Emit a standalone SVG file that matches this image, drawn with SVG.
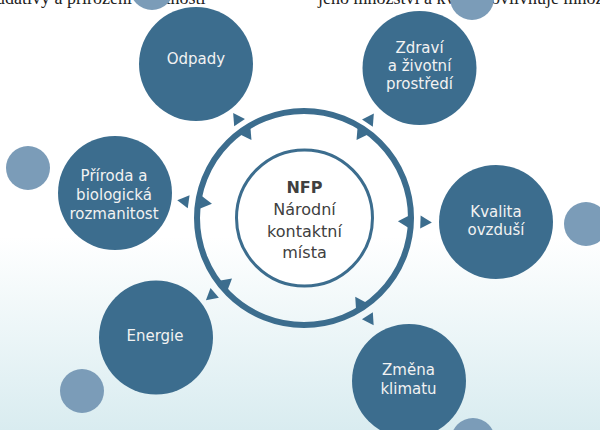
<svg xmlns="http://www.w3.org/2000/svg" xmlns:xlink="http://www.w3.org/1999/xlink" width="600" height="430" viewBox="0 0 600 430">
<defs>
<linearGradient id="bg" x1="0" y1="0" x2="0" y2="1">
<stop offset="0" stop-color="#ffffff"/>
<stop offset="0.55" stop-color="#ffffff"/>
<stop offset="1" stop-color="#d9ecf0"/>
</linearGradient>
<polygon id="tri" points="6,0 -5.5,-6.5 -5.5,6.5"/>
</defs>
<style>
.node{fill:#3c6d8e}
.dot{fill:#7b9cb8}
.lbl{font-family:"DejaVu Sans",Verdana,sans-serif;font-size:15px;fill:#f2f2f2;text-anchor:middle}
.ctr{font-family:"DejaVu Sans",Verdana,sans-serif;font-size:16px;fill:#404040;text-anchor:middle}
.page{font-family:"Liberation Serif","Times New Roman",serif;font-size:18px;fill:#222}
.arr{fill:#3c6d8e}
</style>
<rect x="0" y="0" width="600" height="430" fill="url(#bg)"/>
<text class="page" x="-4" y="4">udativy a přirozeni vlastnosti</text>
<text class="page" x="318" y="4">jeho množství a kvalitu ovlivňuje množství</text>
<g id="dots">
<circle class="dot" cx="152" cy="-12" r="22"/>
<circle class="dot" cx="472" cy="-2" r="22"/>
<circle class="dot" cx="28" cy="168" r="22"/>
<circle class="dot" cx="586" cy="224" r="22"/>
<circle class="dot" cx="82" cy="391" r="22"/>
<circle class="dot" cx="473" cy="440" r="22"/>
</g>
<g id="connectors">
<circle cx="304" cy="218" r="107" fill="none" stroke="#3c6d8e" stroke-width="6"/>
<use xlink:href="#tri" class="arr" transform="translate(425.9,222.3) rotate(2)"/>
<use xlink:href="#tri" class="arr" transform="translate(403.9,221.5) rotate(182)"/>
<use xlink:href="#tri" class="arr" transform="translate(370.4,320.3) rotate(57)"/>
<use xlink:href="#tri" class="arr" transform="translate(358.5,301.9) rotate(237)"/>
<use xlink:href="#tri" class="arr" transform="translate(210.5,296.4) rotate(140)"/>
<use xlink:href="#tri" class="arr" transform="translate(227.4,282.3) rotate(320)"/>
<use xlink:href="#tri" class="arr" transform="translate(183.2,201) rotate(188)"/>
<use xlink:href="#tri" class="arr" transform="translate(206,203) rotate(8)"/>
<use xlink:href="#tri" class="arr" transform="translate(236.5,118) rotate(236)"/>
<use xlink:href="#tri" class="arr" transform="translate(248.1,135.1) rotate(56)"/>
<use xlink:href="#tri" class="arr" transform="translate(370.5,118.5) rotate(304)"/>
<use xlink:href="#tri" class="arr" transform="translate(359.9,135.1) rotate(124)"/>
</g>
<g id="nfp">
<circle cx="304.5" cy="218" r="68" fill="#ffffff" stroke="#3c6d8e" stroke-width="3"/>
<text class="ctr" x="304.5" y="193" font-weight="bold">NFP</text>
<text class="ctr" x="304.5" y="215">Národní</text>
<text class="ctr" x="304.5" y="237">kontaktní</text>
<text class="ctr" x="304.5" y="258">místa</text>
</g>
<g id="odpady">
<circle class="node" cx="196" cy="64" r="57"/>
<text class="lbl" x="196" y="64">Odpady</text>
</g>
<g id="zdravi">
<circle class="node" cx="419.5" cy="68" r="57"/>
<text class="lbl" x="419.5" y="53">Zdraví</text>
<text class="lbl" x="419.5" y="71">a životní</text>
<text class="lbl" x="419.5" y="89">prostředí</text>
</g>
<g id="priroda">
<circle class="node" cx="115" cy="193" r="57"/>
<text class="lbl" x="114" y="181">Příroda a</text>
<text class="lbl" x="114" y="200">biologická</text>
<text class="lbl" x="114" y="219">rozmanitost</text>
</g>
<g id="kvalita">
<circle class="node" cx="496" cy="222" r="57"/>
<text class="lbl" x="496" y="217">Kvalita</text>
<text class="lbl" x="496" y="235">ovzduší</text>
</g>
<g id="energie">
<circle class="node" cx="156" cy="337.5" r="57"/>
<text class="lbl" x="155" y="341">Energie</text>
</g>
<g id="zmena">
<circle class="node" cx="409" cy="381" r="57"/>
<text class="lbl" x="408.5" y="375">Změna</text>
<text class="lbl" x="408.5" y="394">klimatu</text>
</g>
</svg>
